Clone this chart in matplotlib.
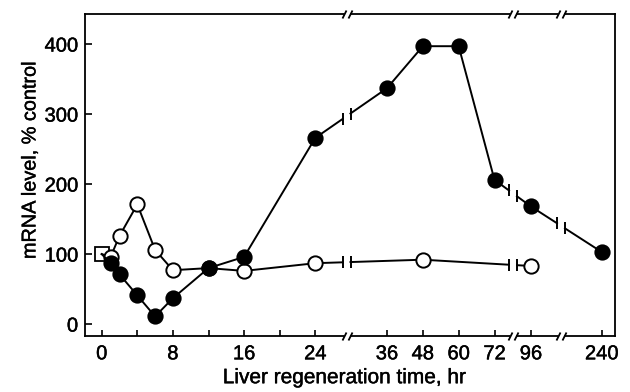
import numpy as np
import matplotlib
matplotlib.use("Agg")
import matplotlib.pyplot as plt
import matplotlib.patheffects as pe
from matplotlib.path import Path

plt.rcParams['font.family'] = ['Liberation Sans', 'DejaVu Sans']

# data (time in hr, mRNA level in % of control)
control_t = [0]
control_v = [100]
filled_t = [0, 1, 2, 4, 6, 8, 12, 16, 24, 36, 48, 60, 72, 96, 240]
filled_v = [100, 87, 71, 41, 11, 37, 80, 96, 266, 337, 397, 397, 206, 168, 103]
open_t = [0, 1, 2, 4, 6, 8, 12, 16, 24, 48, 96]
open_v = [100, 96, 126, 171, 106, 77, 80, 76, 87, 92, 83]

major_ticks = [0, 8, 16, 24, 36, 48, 60, 72, 96, 240]
minor_ticks = [4, 12, 20]
y_ticks = [0, 100, 200, 300, 400]

# broken time axis: piecewise linear mapping hours -> position (pixels)
knot_h = np.array([-2.0, 24, 36, 72, 96, 240, 252])
knot_u = np.array([83.9, 315.3, 387.0, 494.5, 531.0, 601.7, 617.0])
breaks_u = [346.5, 513.0, 561.0]
gap = 4.0


def fwd(h):
    return np.interp(h, knot_h, knot_u)


def inv(u):
    return np.interp(u, knot_u, knot_h)


fig = plt.figure(figsize=(6.3, 3.92), dpi=100)
ax = fig.add_axes([85 / 630, 1 - 336 / 392, 530 / 630, 322 / 392])
ax.set_xscale('function', functions=(fwd, inv))
ax.set_xlim(inv(85), inv(615))
ax.set_ylim(-17, 443)


def draw_series(t, v, face, zo):
    t = np.asarray(t, float)
    v = np.asarray(v, float)
    u = fwd(t)
    seg_u, seg_v = [u[0]], [v[0]]
    bars = []
    for i in range(1, len(u)):
        for b in breaks_u:
            if u[i - 1] < b < u[i]:
                ua, ub = b - gap, b + gap
                va = np.interp(ua, [u[i - 1], u[i]], [v[i - 1], v[i]])
                vb = np.interp(ub, [u[i - 1], u[i]], [v[i - 1], v[i]])
                seg_u.append(ua)
                seg_v.append(va)
                ax.plot(inv(np.array(seg_u)), seg_v, color='black', lw=1.4, zorder=zo)
                bars += [(ua, va), (ub, vb)]
                seg_u, seg_v = [ub], [vb]
        seg_u.append(u[i])
        seg_v.append(v[i])
    ax.plot(inv(np.array(seg_u)), seg_v, color='black', lw=1.4, zorder=zo)
    for bu, bv in bars:
        ax.plot(inv(bu), bv, marker='|', markersize=8, mew=1.4, color='black', zorder=zo)
    ax.plot(t[1:], v[1:], ls='none', marker='o', markersize=10.3, mfc=face,
            mec='black', mew=1.4, zorder=zo + 0.1)


ax.plot(control_t, control_v, ls='none', marker='s', markersize=9.8, mfc='white',
        mec='black', mew=1.3, zorder=2)
draw_series(open_t, open_v, 'white', 3)
draw_series(filled_t, filled_v, 'black', 4)

# break marks on the top and bottom spines
slash = Path([(-5, -4), (-1, 4), (1, -4), (5, 4)],
             [Path.MOVETO, Path.LINETO, Path.MOVETO, Path.LINETO])
patch = Path([(-3, -1.5), (3, -1.5), (3, 1.5), (-3, 1.5), (-3, -1.5)],
             [Path.MOVETO, Path.LINETO, Path.LINETO, Path.LINETO, Path.CLOSEPOLY])
for b in breaks_u:
    for yy in (0, 1):
        ax.plot(inv(b), yy, transform=ax.get_xaxis_transform(), marker=patch,
                markersize=4.3, mfc='white', mew=0, ls='none', clip_on=False, zorder=6)
        ax.plot(inv(b), yy, transform=ax.get_xaxis_transform(), marker=slash,
                markersize=7.2, mec='black', mew=1.3, ls='none', clip_on=False, zorder=7)

thick = [pe.withStroke(linewidth=0.3, foreground='black')]

ax.set_xticks(major_ticks)
ax.set_xticklabels([str(t) for t in major_ticks])
ax.set_xticks(minor_ticks, minor=True)
ax.set_yticks(y_ticks)
ax.tick_params(axis='both', which='both', direction='in', length=4.3, width=1.2,
               labelsize=14.5, colors='black')
ax.tick_params(axis='x', pad=6)
ax.tick_params(axis='y', length=5, pad=5)
for lab in ax.get_xticklabels() + ax.get_yticklabels():
    lab.set_path_effects(thick)
for s in ax.spines.values():
    s.set_linewidth(1.3)

ax.set_xlabel('Liver regeneration time, hr', fontsize=15, path_effects=thick)
ax.xaxis.set_label_coords(0.49, -0.10)
ax.set_ylabel('mRNA level, % control', fontsize=14.3, path_effects=thick)
ax.yaxis.set_label_coords(-0.086, 0.547)

fig.savefig('out.png', dpi=100)
